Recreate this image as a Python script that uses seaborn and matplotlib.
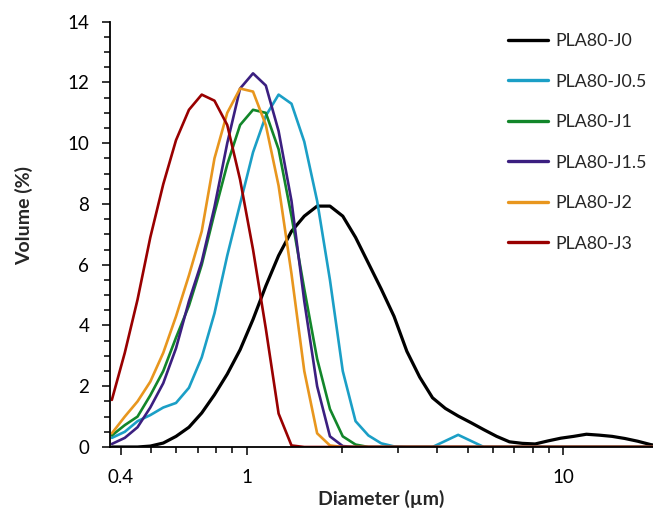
import matplotlib
matplotlib.use("Agg")
import matplotlib.pyplot as plt
import numpy as np
import pandas as pd
import seaborn as sns
from matplotlib.ticker import FixedLocator, FixedFormatter, NullFormatter

# ---- data ----
diameter = [0.375, 0.412, 0.452, 0.496, 0.545, 0.598, 0.657, 0.721, 0.791, 0.868,
            0.953, 1.047, 1.149, 1.261, 1.385, 1.520, 1.669, 1.832, 2.011, 2.207,
            2.423, 2.660, 2.920, 3.205, 3.519, 3.863, 4.240, 4.655, 5.110, 5.610,
            6.158, 6.760, 7.421, 8.147, 8.943, 9.818, 10.78, 11.83, 12.99, 14.26,
            15.65, 17.18, 18.86, 20.70]

pla80_j0 = [0.0, 0.0, 0.0, 0.03, 0.13, 0.35, 0.65, 1.12, 1.72, 2.4,
            3.2, 4.2, 5.3, 6.3, 7.1, 7.6, 7.93, 7.93, 7.6, 6.9,
            6.05, 5.2, 4.3, 3.15, 2.3, 1.62, 1.27, 1.02, 0.8, 0.57,
            0.35, 0.17, 0.12, 0.1, 0.2, 0.29, 0.35, 0.42, 0.39, 0.35,
            0.28, 0.19, 0.08, 0.0]
pla80_j05 = [0.3, 0.5, 0.85, 1.05, 1.3, 1.45, 1.95, 2.95, 4.4, 6.3,
             8.0, 9.7, 10.9, 11.6, 11.3, 10.05, 8.1, 5.5, 2.5, 0.85,
             0.38, 0.12, 0.02, 0.0, 0.0, 0.0, 0.2, 0.4, 0.2, 0.0,
             0.0, 0.0, 0.0, 0.0, 0.0, 0.0, 0.0, 0.0, 0.0, 0.0,
             0.0, 0.0, 0.0, 0.0]
pla80_j1 = [0.38, 0.72, 1.0, 1.7, 2.5, 3.6, 4.65, 6.0, 7.7, 9.3,
            10.6, 11.1, 11.0, 9.8, 7.6, 5.2, 2.9, 1.25, 0.35, 0.08,
            0.0, 0.0, 0.0, 0.0, 0.0, 0.0, 0.0, 0.0, 0.0, 0.0,
            0.0, 0.0, 0.0, 0.0, 0.0, 0.0, 0.0, 0.0, 0.0, 0.0,
            0.0, 0.0, 0.0, 0.0]
pla80_j15 = [0.1, 0.3, 0.65, 1.3, 2.1, 3.25, 4.8, 6.1, 7.9, 10.0,
             11.8, 12.3, 11.9, 10.4, 8.1, 4.8, 2.0, 0.35, 0.03, 0.0,
             0.0, 0.0, 0.0, 0.0, 0.0, 0.0, 0.0, 0.0, 0.0, 0.0,
             0.0, 0.0, 0.0, 0.0, 0.0, 0.0, 0.0, 0.0, 0.0, 0.0,
             0.0, 0.0, 0.0, 0.0]
pla80_j2 = [0.45, 1.0, 1.5, 2.15, 3.1, 4.3, 5.65, 7.1, 9.5, 11.0,
            11.8, 11.7, 10.6, 8.6, 5.7, 2.5, 0.45, 0.05, 0.0, 0.0,
            0.0, 0.0, 0.0, 0.0, 0.0, 0.0, 0.0, 0.0, 0.0, 0.0,
            0.0, 0.0, 0.0, 0.0, 0.0, 0.0, 0.0, 0.0, 0.0, 0.0,
            0.0, 0.0, 0.0, 0.0]
pla80_j3 = [1.55, 3.1, 4.85, 6.9, 8.65, 10.1, 11.1, 11.6, 11.4, 10.6,
            8.8, 6.5, 3.9, 1.1, 0.05, 0.0, 0.0, 0.0, 0.0, 0.0,
            0.0, 0.0, 0.0, 0.0, 0.0, 0.0, 0.0, 0.0, 0.0, 0.0,
            0.0, 0.0, 0.0, 0.0, 0.0, 0.0, 0.0, 0.0, 0.0, 0.0,
            0.0, 0.0, 0.0, 0.0]

series_names = ["PLA80-J0", "PLA80-J0.5", "PLA80-J1", "PLA80-J1.5", "PLA80-J2", "PLA80-J3"]
series_values = [pla80_j0, pla80_j05, pla80_j1, pla80_j15, pla80_j2, pla80_j3]
series_colors = ["#000000", "#1b9fc6", "#12862a", "#3b1f80", "#e8961e", "#990000"]
series_widths = [2.3, 1.9, 1.9, 1.9, 1.9, 1.9]

x_major = [0.4, 1, 10]
x_major_labels = ["0.4", "1", "10"]
x_minor = [0.5, 0.6, 0.7, 0.8, 0.9, 2, 3, 4, 5, 6, 7, 8, 9]
y_major = [0, 2, 4, 6, 8, 10, 12, 14]

# ---- styling ----
sns.set_theme(style="ticks")
plt.rcParams['font.family'] = ['Lato', 'DejaVu Sans']

W, H = 653, 511
fig = plt.figure(figsize=(W / 100, H / 100), dpi=100)
ax = fig.add_axes([110 / W, 1 - 447 / H, 543 / W, (447 - 21.7) / H])

for name, vals, col, lw in zip(series_names, series_values, series_colors, series_widths):
    df = pd.DataFrame({"Diameter": diameter, "Volume": vals})
    sns.lineplot(data=df, x="Diameter", y="Volume", color=col, linewidth=lw,
                 ax=ax, label=name, clip_on=True)

ax.set_xscale("log")
ax.set_xlim(0.37, 19.2)
ax.set_ylim(0, 14)

ax.xaxis.set_major_locator(FixedLocator(x_major))
ax.xaxis.set_major_formatter(FixedFormatter(x_major_labels))
ax.xaxis.set_minor_locator(FixedLocator(x_minor))
ax.xaxis.set_minor_formatter(NullFormatter())
ax.yaxis.set_major_locator(FixedLocator(y_major))
ax.yaxis.set_minor_locator(FixedLocator(list(np.arange(0, 14.01, 0.5))))

ax.tick_params(axis="both", which="major", direction="out", length=6, width=1.1,
               colors="black", labelsize=13.5)
ax.tick_params(axis="both", which="minor", direction="out", length=4.5, width=1.1,
               colors="black")
ax.tick_params(axis="y", which="major", pad=9)
ax.tick_params(axis="x", which="major", pad=10)

for s in ["top", "right"]:
    ax.spines[s].set_visible(False)
for s in ["left", "bottom"]:
    ax.spines[s].set_color("black")
    ax.spines[s].set_linewidth(1.3)

ax.set_xlabel("Diameter (µm)", fontsize=14, fontweight="bold")
ax.set_ylabel("Volume (%)", fontsize=14, fontweight="bold")
ax.xaxis.set_label_coords(0.5, -0.100)
ax.yaxis.set_label_coords(-0.142, 0.545)

fs = 12.8
leg = ax.legend(loc="upper left", bbox_to_anchor=(508 / W, 1 - 33 / H),
                bbox_transform=fig.transFigure, frameon=False, fontsize=fs,
                borderpad=0, borderaxespad=0, handlelength=2.25,
                handletextpad=0.4, labelspacing=1.38)
for line in leg.get_lines():
    line.set_linewidth(2.4)

fig.savefig("out.png", dpi=100)
